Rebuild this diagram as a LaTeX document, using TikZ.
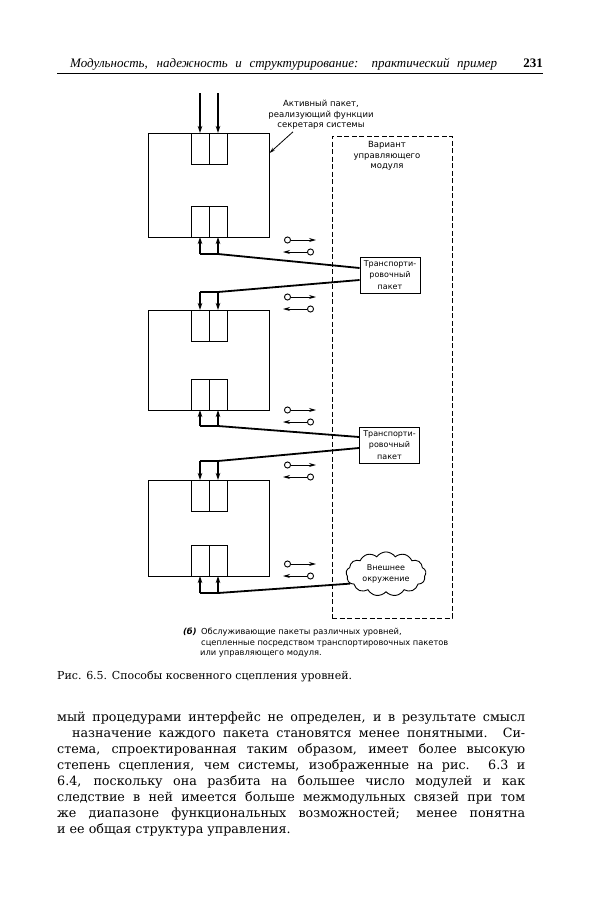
\documentclass[tikz,border=0pt]{standalone}
\usepackage{fontspec}
\setmainfont{DejaVu Serif}
\setsansfont{DejaVu Sans}
\newfontfamily\headfont{Liberation Serif}
\usepackage{tikz}
\usetikzlibrary{positioning, arrows.meta, shapes.symbols}

\tikzset{
  module/.style={draw, line width=0.9pt, minimum width=121pt, minimum height=100pt, inner sep=0pt, outer sep=0pt},
  port/.style={draw, line width=0.8pt, minimum width=18pt, minimum height=31pt, inner sep=0pt, outer sep=0pt},
  transport/.style={draw, line width=0.9pt, minimum width=60pt, minimum height=36pt, inner sep=0pt,
    align=center, font=\sffamily\fontsize{8}{11.5}\selectfont},
  outer/.style={cloud, cloud puffs=13, cloud puff arc=110, aspect=1.8, draw, line width=0.9pt,
    minimum width=80pt, minimum height=44pt, inner sep=0pt, align=center,
    font=\sffamily\fontsize{8}{11}\selectfont},
  ctlbox/.style={draw, dash pattern=on 5pt off 2.5pt, line width=0.9pt, minimum width=120pt,
    minimum height=482pt, inner sep=0pt},
  lbl/.style={align=center, inner sep=0pt, font=\sffamily\fontsize{8.5}{10.5}\selectfont},
  wire/.style={line width=1.8pt},
  feed/.style={wire, -{Stealth[length=7pt,width=4.5pt]}},
  sig/.style={line width=0.9pt, {Circle[open,length=7pt,width=7pt]}-{Stealth[length=7pt,width=4pt]}},
  bodyline/.style={anchor=base west, inner sep=0pt, font=\fontsize{12.7}{16}\selectfont},
  capline/.style={anchor=base west, inner sep=0pt, font=\sffamily\fontsize{8.3}{11}\selectfont}
}

\begin{document}
\begin{tikzpicture}[x=1pt, y=-1pt]
  \fill[white] (0,0) rectangle (600,899);
  \useasboundingbox (0,0) rectangle (600,899);

  % running head
  \node[anchor=base west, inner sep=0pt, font=\headfont\itshape\fontsize{13}{16}\selectfont] (head) at (70,67)
    {\makebox[427pt][s]{Модульность, надежность и структурирование: практический пример}};
  \node[anchor=base east, inner sep=0pt, font=\headfont\bfseries\fontsize{13}{16}\selectfont] (page) at (543,67) {231};
  \draw[line width=1pt] (57,73) -- (543,73);

  % control module variant
  \node[ctlbox] (ctl) at (392,377) {};
  \node[lbl, below=6pt of ctl.north, xshift=-5pt] (ctltxt) {Вариант\\управляющего\\модуля};

  % service packets
  \node[module, minimum height=104pt] (m1) at (209,185) {};
  \node[module] (m2) at (209,360) {};
  \node[module, minimum height=96pt] (m3) at (209,528) {};
  \foreach \m in {m1,m2,m3} {
    \node[port, anchor=north east] (\m tl) at (\m.north) {};
    \node[port, anchor=north west] (\m tr) at (\m.north) {};
    \node[port, anchor=south east] (\m bl) at (\m.south) {};
    \node[port, anchor=south west] (\m br) at (\m.south) {};
  }

  \node[transport] (tp1) at (390,275) {Транспорти-\\ровочный\\пакет};
  \node[transport] (tp2) at (389.5,445) {Транспорти-\\ровочный\\пакет};
  \node[outer] (env) at (386,574) {Внешнее\\окружение};

  \node[lbl] (act) at (321,115) {Активный пакет,\\реализующий функции\\секретаря системы};
  \draw[line width=0.8pt, -{Stealth[length=6pt,width=3.5pt]}] ([xshift=-28pt,yshift=-2pt]act.south) -- ([yshift=32pt]m1.east);

  % entry into the active packet
  \coordinate (in1) at ([yshift=40pt]m1tl.north);
  \coordinate (in2) at ([yshift=40pt]m1tr.north);
  \draw[feed] (in1) -- (m1tl.north);
  \draw[feed] (in2) -- (m1tr.north);

  % m1 -> tp1 -> m2
  \coordinate (j1l) at ([yshift=-17pt]m1bl.south);
  \coordinate (j1r) at ([yshift=-17pt]m1br.south);
  \draw[wire] (j1l) -- (j1r) -- ([yshift=7pt]tp1.west);
  \draw[feed] (j1l) -- (m1bl.south);
  \draw[feed] (j1r) -- (m1br.south);
  \coordinate (j2l) at ([yshift=18pt]m2tl.north);
  \coordinate (j2r) at ([yshift=18pt]m2tr.north);
  \draw[wire] ([yshift=-5pt]tp1.west) -- (j2r) -- (j2l);
  \draw[feed] (j2l) -- (m2tl.north);
  \draw[feed] (j2r) -- (m2tr.north);

  % m2 -> tp2 -> m3
  \coordinate (j3l) at ([yshift=-16pt]m2bl.south);
  \coordinate (j3r) at ([yshift=-16pt]m2br.south);
  \draw[wire] (j3l) -- (j3r) -- ([yshift=8pt]tp2.west);
  \draw[feed] (j3l) -- (m2bl.south);
  \draw[feed] (j3r) -- (m2br.south);
  \coordinate (j4l) at ([yshift=19pt]m3tl.north);
  \coordinate (j4r) at ([yshift=19pt]m3tr.north);
  \draw[wire] ([yshift=-3pt]tp2.west) -- (j4r) -- (j4l);
  \draw[feed] (j4l) -- (m3tl.north);
  \draw[feed] (j4r) -- (m3tr.north);

  % m3 -> environment
  \coordinate (j5l) at ([yshift=-17pt]m3bl.south);
  \coordinate (j5r) at ([yshift=-17pt]m3br.south);
  \draw[wire] (j5l) -- (j5r) -- (env.195);
  \draw[feed] (j5l) -- (m3bl.south);
  \draw[feed] (j5r) -- (m3br.south);

  % call / return signs
  \foreach \y in {240,297,410,465,564} {
    \draw[sig] (284,\y) -- (316,\y);
    \draw[sig] (314,\y+12) -- (283,\y+12);
  }

  % figure legend
  \node[anchor=base west, inner sep=0pt, font=\sffamily\bfseries\itshape\fontsize{8.3}{11}\selectfont] (tagb) at (183,634) {(б)};
  \node[capline] (cap1) at (201,634) {Обслуживающие пакеты различных уровней,};
  \node[capline] (cap2) at (201,645) {сцепленные посредством транспортировочных пакетов};
  \node[capline] (cap3) at (200,655) {или управляющего модуля.};

  \node[anchor=base west, inner sep=0pt, font=\fontsize{11}{13}\selectfont] (figcap) at (57,679)
    {Рис. 6.5. Способы косвенного сцепления уровней.};

  % running text
  \node[bodyline] (t1) at (57,721) {\makebox[468pt][s]{мый процедурами интерфейс не определен, и в результате смысл}};
  \node[bodyline] (t2) at (72,737) {\makebox[453pt][s]{назначение каждого пакета становятся менее понятными. Си-}};
  \node[bodyline] (t3) at (57,753) {\makebox[468pt][s]{стема, спроектированная таким образом, имеет более высокую}};
  \node[bodyline] (t4) at (57,769) {\makebox[468pt][s]{степень сцепления, чем системы, изображенные на рис. 6.3 и}};
  \node[bodyline] (t5) at (57,785) {\makebox[468pt][s]{6.4, поскольку она разбита на большее число модулей и как}};
  \node[bodyline] (t6) at (57,801) {\makebox[468pt][s]{следствие в ней имеется больше межмодульных связей при том}};
  \node[bodyline] (t7) at (57,817) {\makebox[468pt][s]{же диапазоне функциональных возможностей; менее понятна}};
  \node[bodyline] (t8) at (57,833) {и ее общая структура управления.};
\end{tikzpicture}
\end{document}
